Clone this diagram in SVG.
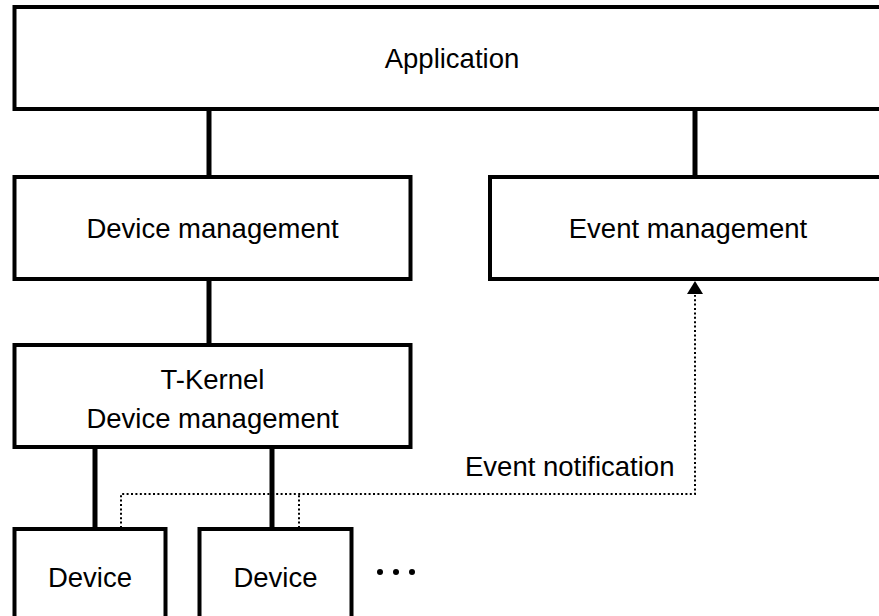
<svg xmlns="http://www.w3.org/2000/svg" width="879" height="616" viewBox="0 0 879 616">
<style>
.box{fill:#fff;stroke:#000;stroke-width:4}
.t{font-family:"Liberation Sans",Arial,sans-serif;font-size:27.5px;fill:#000;text-anchor:middle}
.solid{stroke:#000;stroke-width:5;fill:none}
.dot{stroke:#000;stroke-width:2;fill:none;stroke-dasharray:2 2.4}
</style>
<defs>
<marker id="arr" markerWidth="16" markerHeight="14" refX="8" refY="1" orient="auto-start-reverse" markerUnits="userSpaceOnUse" viewBox="0 0 16 14">
<path d="M8 0 L16 13 L0 13 Z" fill="#000"/>
</marker>
</defs>
<rect width="879" height="616" fill="#fff"/>
<g id="connectors">
<line class="solid" x1="209" y1="109" x2="209" y2="177"/>
<line class="solid" x1="695" y1="109" x2="695" y2="177"/>
<line class="solid" x1="209" y1="279" x2="209" y2="345"/>
<line class="solid" x1="95" y1="447" x2="95" y2="529"/>
<line class="solid" x1="272" y1="447" x2="272" y2="529"/>
<path class="dot" d="M121 528 V494 H695 V295"/>
<path class="dot" d="M299 528 V494"/>
<path d="M695 281 L703 294 L687 294 Z" fill="#000"/>
<text class="t" x="465" y="476" style="text-anchor:start">Event notification</text>
</g>
<g id="application">
<rect class="box" x="14.5" y="7" width="880" height="102"/>
<text class="t" x="452" y="68">Application</text>
</g>
<g id="device-management">
<rect class="box" x="14.5" y="177" width="396" height="102"/>
<text class="t" x="212.5" y="238">Device management</text>
</g>
<g id="event-management">
<rect class="box" x="490" y="177" width="396" height="102"/>
<text class="t" x="688" y="238">Event management</text>
</g>
<g id="tkernel-device-management">
<rect class="box" x="14.5" y="345" width="396" height="102"/>
<text class="t" x="212.5" y="389">T-Kernel</text>
<text class="t" x="212.5" y="428">Device management</text>
</g>
<g id="device1">
<rect class="box" x="14.5" y="529" width="151" height="100"/>
<text class="t" x="90" y="587">Device</text>
</g>
<g id="device2">
<rect class="box" x="199.5" y="529" width="152" height="100"/>
<text class="t" x="275.5" y="587">Device</text>
</g>
<g id="ellipsis">
<circle cx="380" cy="572" r="3"/>
<circle cx="396" cy="572" r="3"/>
<circle cx="412" cy="572" r="3"/>
</g>
</svg>
